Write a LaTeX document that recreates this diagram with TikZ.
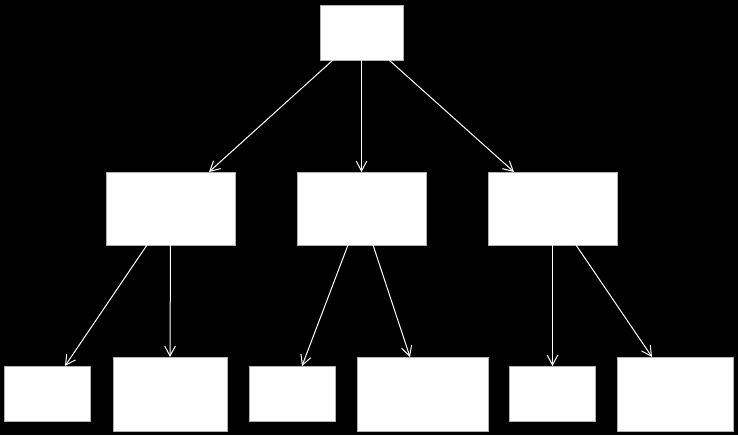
\documentclass[tikz,border=0pt]{standalone}
\usepackage{tikz}
\usetikzlibrary{arrows.meta,calc}

\begin{document}
\begin{tikzpicture}[
    x=0.75pt,y=-0.75pt,
    box/.style={rectangle,draw=gray!60,fill=white,line width=0.5pt,inner sep=0pt,outer sep=0pt},
    rootbox/.style={box,minimum width=62.25pt,minimum height=41.25pt},
    midbox/.style={box,minimum width=96.75pt,minimum height=54.75pt},
    leafbox/.style={box,minimum width=64.5pt,minimum height=41.25pt},
    tallbox/.style={box,minimum height=55.5pt},
    arrow/.style={-{Straight Barb[length=2.6mm,width=2.8mm]},white,line width=0.75pt}
  ]
    \fill[black] (0,0) rectangle (738,435);
    \useasboundingbox (0,0) rectangle (738,435);

    \node[rootbox] (root) at (361.5,32.5) {};
    \node[midbox] (left) at (170.5,208.5) {};
    \node[midbox] (middle) at (361.5,208.5) {};
    \node[midbox] (right) at (552.5,208.5) {};

    \node[leafbox] (leafa) at (47,393.5) {};
    \node[tallbox,minimum width=85.5pt] (leafb) at (170,394) {};
    \node[leafbox] (leafc) at (292,393.5) {};
    \node[tallbox,minimum width=98.25pt] (leafd) at (422.5,394) {};
    \node[leafbox] (leafe) at (552.5,393.5) {};
    \node[tallbox,minimum width=87pt] (leaff) at (675,394) {};

    \draw[arrow] ($(root.south)+(-28.5,0)$) -- ($(left.north)+(38.5,0)$);
    \draw[arrow] (root.south) -- (middle.north);
    \draw[arrow] ($(root.south)+(27.5,0)$) -- ($(right.north)+(-38.5,0)$);

    \draw[arrow] ($(left.south)+(-23.5,0)$) -- ($(leafa.north)+(18,0)$);
    \draw[arrow] (left.south) -- (leafb.north);
    \draw[arrow] ($(middle.south)+(-13.5,0)$) -- ($(leafc.north)+(10,0)$);
    \draw[arrow] ($(middle.south)+(11.5,0)$) -- ($(leafd.north)+(-12.5,0)$);
    \draw[arrow] (right.south) -- (leafe.north);
    \draw[arrow] ($(right.south)+(23.5,0)$) -- ($(leaff.north)+(-23,0)$);
  \end{tikzpicture}
\end{document}
